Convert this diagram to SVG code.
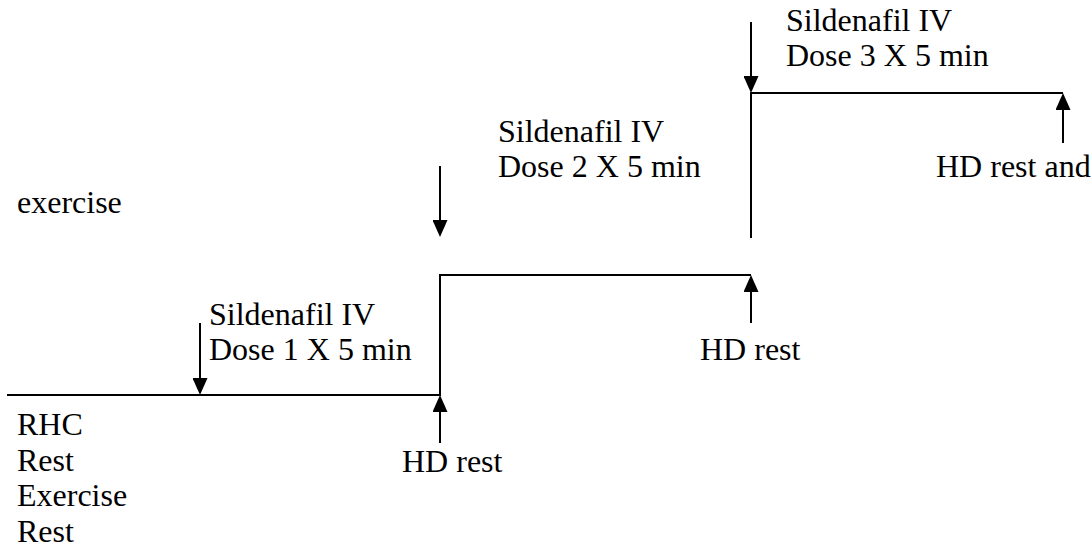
<svg xmlns="http://www.w3.org/2000/svg" width="1092" height="552" viewBox="0 0 1092 552">
<style>
.t{font-family:"Liberation Serif","Times New Roman",serif;font-size:32px;fill:#000}
.ln{fill:none;stroke:#000;stroke-width:2}
.ar{fill:none;stroke:#000;stroke-width:2;marker-end:url(#ah)}
</style>
<defs>
<marker id="ah" markerUnits="userSpaceOnUse" markerWidth="17" markerHeight="15" viewBox="0 0 17 15" refX="8" refY="7.5" orient="auto">
<path d="M0,0 L17,7.5 L0,15 z" fill="#000"/>
</marker>
</defs>
<rect width="1092" height="552" fill="#fff"/>
<g id="connectors">
<path class="ln" d="M7,395 H440 V275 H751"/>
<path class="ln" d="M751,238 V93 H1063"/>
<line class="ar" x1="200" y1="323" x2="200" y2="386"/>
<line class="ar" x1="440" y1="443" x2="440" y2="404"/>
<line class="ar" x1="440" y1="166" x2="440" y2="228"/>
<line class="ar" x1="751" y1="323" x2="751" y2="284"/>
<line class="ar" x1="751" y1="22" x2="751" y2="84"/>
<line class="ar" x1="1063" y1="143" x2="1063" y2="102"/>
</g>
<g id="rhc">
<text class="t" x="17" y="435">RHC</text>
<text class="t" x="17" y="470.5">Rest</text>
<text class="t" x="17" y="506">Exercise</text>
<text class="t" x="17" y="541.5">Rest</text>
</g>
<g id="exercise"><text class="t" x="17" y="213">exercise</text></g>
<g id="dose1">
<text class="t" x="209" y="325">Sildenafil IV</text>
<text class="t" x="209" y="360">Dose 1 X 5 min</text>
</g>
<g id="hd1"><text class="t" x="402" y="472">HD rest</text></g>
<g id="dose2">
<text class="t" x="498" y="142">Sildenafil IV</text>
<text class="t" x="498" y="177">Dose 2 X 5 min</text>
</g>
<g id="hd2"><text class="t" x="700" y="360">HD rest</text></g>
<g id="dose3">
<text class="t" x="786" y="31">Sildenafil IV</text>
<text class="t" x="786" y="66">Dose 3 X 5 min</text>
</g>
<g id="hd3"><text class="t" x="936" y="177">HD rest and</text></g>
</svg>
